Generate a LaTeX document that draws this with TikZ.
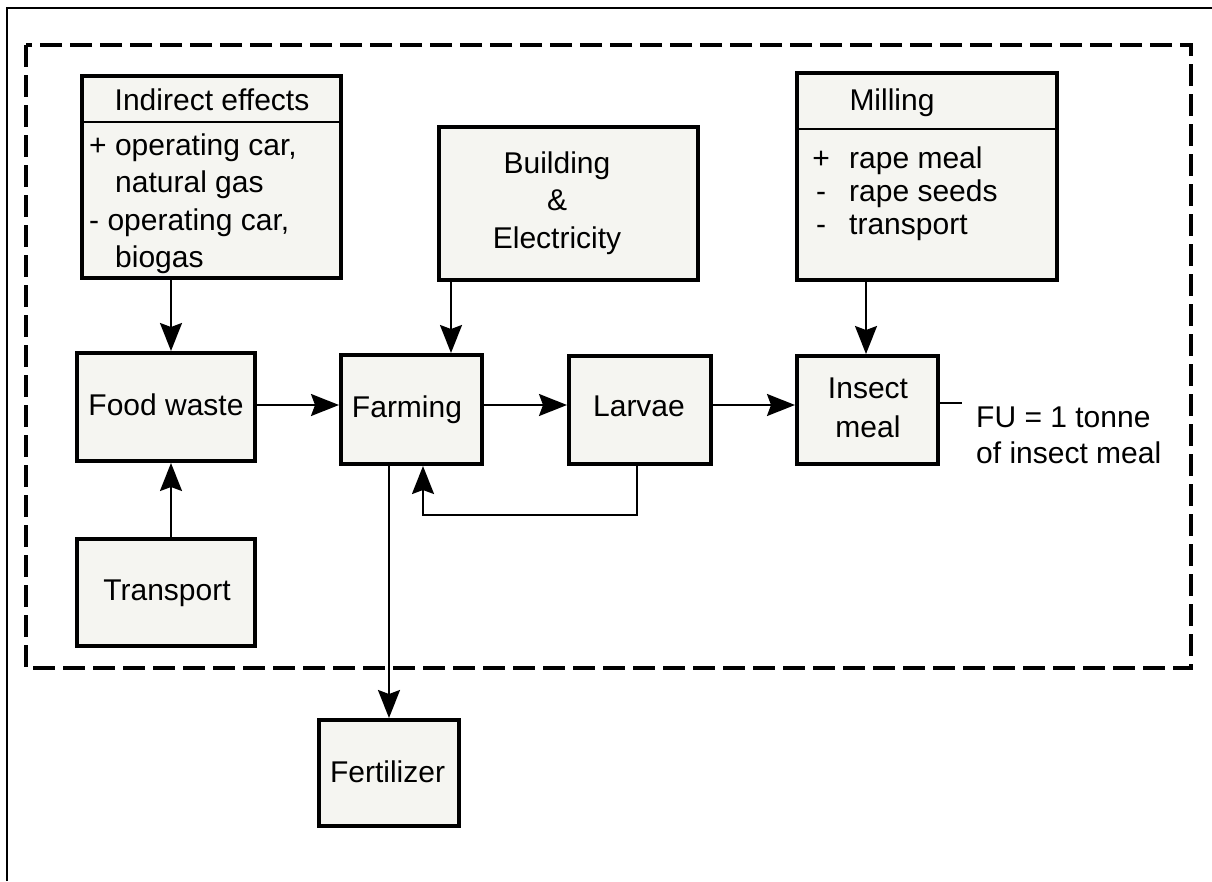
\documentclass[tikz,border=0pt]{standalone}
\usepackage{fontspec}
\setmainfont{Liberation Sans}
\usetikzlibrary{arrows.meta,calc}
\definecolor{boxfill}{RGB}{245,245,241}
\begin{document}
\begin{tikzpicture}[x=1pt,y=-1pt,
  box/.style={draw, line width=4pt, fill=boxfill, inner sep=0pt, outer sep=2pt, rectangle},
  txt/.style={anchor=base, inner sep=0pt, font=\fontsize{30}{36}\selectfont},
  txtl/.style={anchor=base west, inner sep=0pt, font=\fontsize{30}{36}\selectfont},
  conn/.style={line width=2pt},
  arr/.style={conn, -{Stealth[length=28pt,width=22pt,inset=4pt]}},
  frame/.style={line width=2pt},
  boundary/.style={line width=4pt, dash pattern=on 22pt off 8pt}
]
\useasboundingbox (0,0) rectangle (1212,881);
% outer frame (top and left edges)
\draw[frame] (7,881) -- (7,8) -- (1212,8);
% system boundary
\draw[boundary] (26,45) rectangle (1191,668);

% boxes
\node[box, minimum width=259pt, minimum height=202pt] (ind) at (211.5,177) {};
\node[box, minimum width=260pt, minimum height=207pt] (mil) at (927,176.5) {};
\node[box, minimum width=259pt, minimum height=153pt] (bld) at (568.5,203.5) {};
\node[box, minimum width=178pt, minimum height=108pt] (fw) at (166,407) {};
\node[box, minimum width=141pt, minimum height=109pt] (frm) at (411.5,409.5) {};
\node[box, minimum width=142pt, minimum height=108pt] (lar) at (640,410) {};
\node[box, minimum width=141pt, minimum height=108pt] (ins) at (867.5,410) {};
\node[box, minimum width=178pt, minimum height=107pt] (trn) at (166,592.5) {};
\node[box, minimum width=140pt, minimum height=106pt] (fer) at (389,773) {};

% dividers
\coordinate (inddiv) at (0,122);
\coordinate (mildiv) at (0,129);
\draw[conn] (ind.west |- inddiv) -- (ind.east |- inddiv);
\draw[conn] (mil.west |- mildiv) -- (mil.east |- mildiv);

% texts
\node[txt] (indh) at (212,110) {Indirect effects};
\node[txtl] (indl1) at (89,155) {+ operating car,};
\node[txtl] (indl2) at (115,192.5) {natural gas};
\node[txtl] (indl3) at (89,230) {- operating car,};
\node[txtl] (indl4) at (115,267.5) {biogas};

\node[txt] (milh) at (892,110) {Milling};
\node[txt] (mils1) at (821,168) {+};
\node[txt] (mils2) at (821,201) {-};
\node[txt] (mils3) at (821,234) {-};
\node[txtl] (milt1) at (849,168) {rape meal};
\node[txtl] (milt2) at (849,201) {rape seeds};
\node[txtl] (milt3) at (849,234) {transport};

\node[txt] (bld1) at (557,173) {Building};
\node[txt] (bld2) at (557,210) {\&};
\node[txt] (bld3) at (557,248) {Electricity};

\node[txt] (fwt) at (166,415) {Food waste};
\node[txt] (frmt) at (407,417) {Farming};
\node[txt] (lart) at (639,416) {Larvae};
\node[txt] (ins1) at (868,398) {Insect};
\node[txt] (ins2) at (868,437) {meal};
\node[txt] (trnt) at (167,600) {Transport};
\node[txt] (fert) at (387.5,782) {Fertilizer};
\node[txtl] (fu1) at (976,427) {FU = 1 tonne};
\node[txtl] (fu2) at (976,463) {of insect meal};

% connectors
\coordinate (ax) at (171,0);
\coordinate (bx) at (451,0);
\coordinate (mx) at (866,0);
\coordinate (hy) at (0,405);
\coordinate (fb1) at (637,515);
\coordinate (fb2) at (423,515);
\coordinate (fuc) at (962,403);

\draw[arr] (ind.south -| ax) -- (fw.north -| ax);
\draw[arr] (trn.north -| ax) -- (fw.south -| ax);
\draw[arr] (fw.east |- hy) -- (frm.west |- hy);
\draw[arr] (bld.south -| bx) -- (frm.north -| bx);
\draw[arr] (frm.east |- hy) -- (lar.west |- hy);
\draw[arr] (lar.east |- hy) -- (ins.west |- hy);
\draw[arr] (mil.south -| mx) -- (ins.north -| mx);
\draw[arr] (lar.south -| fb1) -- (fb1) -- (fb2) -- (frm.south -| fb2);
\draw[arr] (frm.south -| fer.north) -- (fer.north);
\draw[conn] (ins.east |- fuc) -- (fuc);
\end{tikzpicture}
\end{document}
